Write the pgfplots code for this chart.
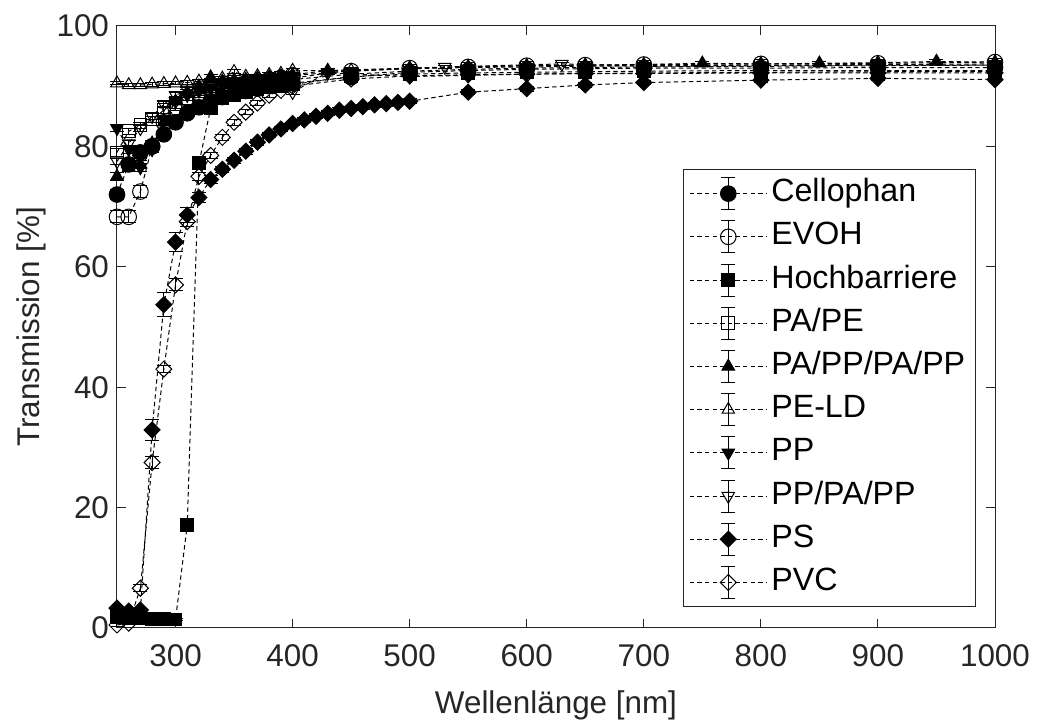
\documentclass[border=0pt]{standalone}
\usepackage{fontspec}
\setmainfont{Liberation Sans}
\usepackage{pgfplots}
\pgfplotsset{compat=1.18}
\definecolor{axgray}{HTML}{262626}
\newcommand{\fs}{\fontsize{15.7pt}{18pt}\selectfont}
\newcommand{\lfs}{\fontsize{16.1pt}{18pt}\selectfont}

\begin{document}
\begin{tikzpicture}
\begin{axis}[
  scale only axis, width=439pt, height=301pt,
  xmin=250, xmax=1000, ymin=0, ymax=100,
  xtick={300,400,...,1000}, ytick={0,20,...,100},
  tick align=inside, major tick length=4.5pt,
  axis line style={axgray, line width=0.5pt},
  tick style={axgray, line width=0.5pt},
  ticklabel style={font=\fs, text=axgray},
  xticklabel style={yshift=-5pt},
  yticklabel style={xshift=-0.5pt},
  /pgf/number format/assume math mode=true,
  /pgf/number format/set thousands separator={},
  xlabel={Wellenlänge [nm]}, ylabel={Transmission [\%]},
  label style={font=\fs, text=axgray},
  xlabel style={at={(axis description cs:0.5,-0.1412)}, anchor=base},
  ylabel style={at={(axis description cs:-0.0877,0.5)}, anchor=base},
  clip=false,
  error bars/y dir=both, error bars/y explicit,
  error bars/error bar style={solid, line width=0.5pt},
  error bars/error mark options={solid, rotate=90, mark size=3.5pt, line width=0.5pt},
  every axis plot/.append style={black, line width=0.5pt, dash pattern=on 2.2pt off 1.6pt},
  legend style={at={(0.978,0.035)}, anchor=south east, draw=axgray, line width=0.5pt,
    fill=white, font=\lfs, inner xsep=3pt, inner ysep=1.2pt, row sep=0pt,
    nodes={text height=11.5pt, text depth=3.5pt, inner ysep=3.3pt}},
  legend cell align=left,
  legend image code/.code={
    \draw[solid, black, mark=none, line width=0.5pt] (19.25pt,-8pt) -- (19.25pt,8pt)
      (15.75pt,-8pt) -- (22.75pt,-8pt) (15.75pt,8pt) -- (22.75pt,8pt);
    \draw[#1, mark=none] (0pt,0pt) -- (38.5pt,0pt);
    \draw[#1, solid] plot coordinates {(19.25pt,0pt)};
  },
]
% Cellophan
\addplot[mark=*, mark size=3.9pt, mark options={solid}] table[y error=e] {
x y e
250 72.0 0.8
260 77.0 0.6
270 79.0 0.6
280 80.0 0.5
290 82.0 0.5
300 84.0 0.5
310 85.5 0.4
320 86.5 0.4
330 87.5 0.4
340 88.2 0.4
350 88.8 0.4
360 89.2 0.4
370 89.6 0.4
380 90.0 0.4
390 90.3 0.4
400 90.5 0.4
450 91.5 0.3
500 92.3 0.3
550 92.6 0.3
600 92.8 0.3
650 92.9 0.3
700 93.0 0.3
800 93.0 0.3
900 93.1 0.3
1000 93.1 0.3
};
% EVOH
\addplot[mark=o, mark size=3.9pt, mark options={solid}] table[y error=e] {
x y e
250 68.3 1.0
260 68.3 1.0
270 72.5 1.0
280 80.0 0.6
290 84.0 0.5
300 86.5 0.5
310 88.0 0.4
320 88.8 0.4
330 89.3 0.4
340 89.7 0.4
350 90.1 0.4
360 90.5 0.4
370 90.8 0.4
380 91.1 0.4
390 91.4 0.4
400 91.8 0.4
450 92.5 0.3
500 93.0 0.3
550 93.2 0.3
600 93.4 0.3
650 93.5 0.3
700 93.6 0.3
800 93.7 0.3
900 93.8 0.3
1000 94.0 0.3
};
% Hochbarriere
\addplot[mark=square*, mark size=3.2pt, mark options={solid}] table[y error=e] {
x y e
250 1.8 0.2
260 1.7 0.2
270 1.6 0.2
280 1.5 0.2
290 1.5 0.2
300 1.4 0.2
310 17.1 0.5
320 77.2 0.6
330 86.3 0.5
340 88.0 0.4
350 88.6 0.4
360 89.1 0.4
370 89.5 0.4
380 89.8 0.4
390 90.1 0.4
400 90.3 0.4
450 91.6 0.3
500 92.0 0.3
550 92.2 0.3
600 92.3 0.3
650 92.4 0.3
700 92.5 0.3
800 92.6 0.3
900 92.6 0.3
1000 92.6 0.3
};
% PA/PE
\addplot[mark=square, mark size=3.2pt, mark options={solid}] table[y error=e] {
x y e
250 79.0 0.6
260 82.5 0.5
270 83.5 0.5
280 84.5 0.5
290 86.0 0.5
300 87.3 0.4
310 88.0 0.4
320 88.6 0.4
330 89.1 0.4
340 89.5 0.4
350 89.9 0.4
360 90.2 0.4
370 90.5 0.4
380 90.7 0.4
390 90.9 0.4
400 91.1 0.4
450 92.0 0.3
500 92.5 0.3
550 92.8 0.3
600 93.0 0.3
650 93.1 0.3
700 93.2 0.3
800 93.3 0.3
900 93.4 0.3
1000 93.5 0.3
};
% PA/PP/PA/PP
\addplot[mark=triangle*, mark size=3.6pt, mark options={solid}] table[y error=e] {
x y e
250 75.0 0.6
260 76.5 0.6
270 77.0 0.6
280 80.5 0.5
290 84.0 0.5
300 87.5 0.5
310 89.0 0.4
320 90.0 0.4
330 91.5 0.4
340 90.8 0.4
350 91.0 0.4
360 91.1 0.4
370 91.3 0.4
380 91.5 0.4
390 91.7 0.4
400 91.9 0.4
430 92.6 0.3
500 93.0 0.3
550 93.2 0.3
600 93.4 0.3
650 93.5 0.3
700 93.6 0.3
750 93.8 0.3
800 93.7 0.3
850 93.8 0.3
900 93.9 0.3
950 94.1 0.3
1000 94.0 0.3
};
% PE-LD
\addplot[mark=triangle, mark size=3.6pt, mark options={solid}] table[y error=e] {
x y e
250 90.5 0.3
260 90.2 0.3
270 90.2 0.3
280 90.3 0.3
290 90.4 0.3
300 90.5 0.3
310 90.6 0.3
320 90.8 0.3
330 91.0 0.3
340 91.3 0.3
350 92.4 0.3
360 91.6 0.3
370 91.7 0.3
380 91.9 0.3
390 92.1 0.3
400 92.6 0.3
450 92.6 0.3
500 92.9 0.3
550 93.1 0.3
600 93.2 0.3
650 93.3 0.3
700 93.4 0.3
800 93.5 0.3
900 93.6 0.3
1000 93.7 0.3
};
% PP
\addplot[mark=triangle*, mark size=3.6pt, mark options={solid, rotate=180}] table[y error=e] {
x y e
250 83.0 0.6
260 79.5 0.6
270 76.5 0.6
280 79.5 0.5
290 84.5 0.5
300 87.5 0.5
310 88.5 0.4
320 89.2 0.4
330 89.7 0.4
340 90.0 0.4
350 90.3 0.4
360 90.5 0.4
370 90.7 0.4
380 90.9 0.4
390 91.1 0.4
400 91.3 0.4
430 92.2 0.3
500 91.6 0.3
550 91.8 0.3
600 92.0 0.3
650 92.1 0.3
700 92.2 0.3
800 92.3 0.3
900 92.4 0.3
1000 92.4 0.3
};
% PP/PA/PP
\addplot[mark=triangle, mark size=3.6pt, mark options={solid, rotate=180}] table[y error=e] {
x y e
250 77.5 0.5
260 80.5 0.5
270 83.0 0.5
280 85.0 0.5
290 87.0 0.4
300 88.5 0.4
310 89.3 0.4
320 89.8 0.4
330 90.2 0.4
340 90.5 0.4
350 90.7 0.4
360 90.9 0.4
370 91.0 0.4
380 91.1 0.4
390 90.8 0.4
400 89.0 0.4
430 92.3 0.3
530 93.2 0.3
630 93.7 0.3
700 93.3 0.3
800 93.4 0.3
900 93.5 0.3
1000 93.5 0.3
};
% PS
\addplot[mark=diamond*, mark size=4pt, mark options={solid, xscale=1.33}] table[y error=e] {
x y e
250 3.3 0.3
260 2.8 0.3
270 3.0 0.3
280 32.9 1.8
290 53.7 2.0
300 64.1 1.6
310 68.6 1.2
320 71.5 0.8
330 74.5 0.6
340 76.2 0.5
350 77.7 0.5
360 79.2 0.5
370 80.7 0.5
380 81.9 0.4
390 82.9 0.4
400 83.8 0.4
410 84.4 0.4
420 85.0 0.4
430 85.5 0.4
440 86.0 0.4
450 86.3 0.4
460 86.6 0.4
470 86.9 0.4
480 87.1 0.4
490 87.3 0.4
500 87.5 0.4
550 89.0 0.4
600 89.6 0.4
650 90.2 0.4
700 90.6 0.4
800 91.0 0.4
900 91.3 0.4
1000 91.1 0.4
};
% PVC
\addplot[mark=diamond, mark size=4pt, mark options={solid, xscale=1.33}] table[y error=e] {
x y e
250 0.5 0.2
260 0.8 0.2
270 6.6 0.6
280 27.5 1.0
290 43.0 0.6
300 57.0 1.0
310 67.5 0.8
320 75.0 0.6
330 78.5 0.5
340 81.5 0.5
350 84.0 0.5
360 85.7 0.4
370 87.2 0.4
380 88.5 0.4
390 89.3 0.4
400 90.0 0.4
450 91.2 0.3
500 91.7 0.3
550 91.9 0.3
600 92.0 0.3
650 92.1 0.3
700 92.1 0.3
800 92.2 0.3
900 92.2 0.3
1000 92.2 0.3
};
\legend{Cellophan, EVOH, Hochbarriere, PA/PE, PA/PP/PA/PP, PE-LD, PP, PP/PA/PP, PS, PVC}
\end{axis}
\pgfresetboundingbox
\path[use as bounding box] ([xshift=-58.5pt,yshift=-46pt]current axis.south west) rectangle ([xshift=21pt,yshift=13pt]current axis.north east);
\end{tikzpicture}
\end{document}
